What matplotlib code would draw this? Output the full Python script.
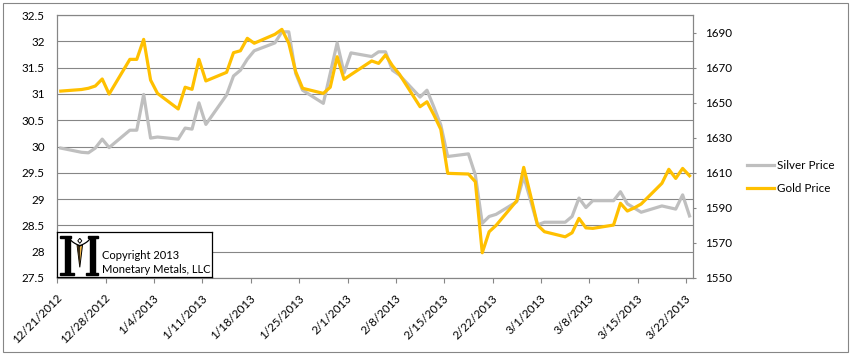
import matplotlib
matplotlib.use("Agg")
import matplotlib.pyplot as plt
from matplotlib.transforms import ScaledTranslation
from matplotlib.patches import Rectangle, Polygon
from matplotlib.ticker import MultipleLocator, FuncFormatter
import numpy as np
import pandas as pd

plt.rcParams['font.family'] = ['Lato', 'DejaVu Sans']

# ---------------- DATA ----------------
dates = ["2012-12-21", "2012-12-24", "2012-12-25", "2012-12-26", "2012-12-27", "2012-12-28",
         "2012-12-31", "2013-01-01", "2013-01-02", "2013-01-03", "2013-01-04",
         "2013-01-07", "2013-01-08", "2013-01-09", "2013-01-10", "2013-01-11",
         "2013-01-14", "2013-01-15", "2013-01-16", "2013-01-17", "2013-01-18",
         "2013-01-21", "2013-01-22", "2013-01-23", "2013-01-24", "2013-01-25",
         "2013-01-28", "2013-01-29", "2013-01-30", "2013-01-31", "2013-02-01",
         "2013-02-04", "2013-02-05", "2013-02-06", "2013-02-07", "2013-02-08",
         "2013-02-11", "2013-02-12", "2013-02-13", "2013-02-14", "2013-02-15",
         "2013-02-18", "2013-02-19", "2013-02-20", "2013-02-21", "2013-02-22",
         "2013-02-25", "2013-02-26", "2013-02-27", "2013-02-28", "2013-03-01",
         "2013-03-04", "2013-03-05", "2013-03-06", "2013-03-07", "2013-03-08",
         "2013-03-11", "2013-03-12", "2013-03-13", "2013-03-14", "2013-03-15",
         "2013-03-18", "2013-03-19", "2013-03-20", "2013-03-21", "2013-03-22"]

silver = [29.97, 29.89, 29.88, 29.97, 30.14, 29.98,
          30.31, 30.31, 30.99, 30.16, 30.18,
          30.14, 30.35, 30.33, 30.83, 30.42,
          30.98, 31.34, 31.45, 31.66, 31.82,
          31.97, 32.18, 32.18, 31.39, 31.07,
          30.82, 31.39, 31.97, 31.40, 31.78,
          31.71, 31.80, 31.80, 31.45, 31.36,
          30.94, 31.07, 30.75, 30.41, 29.81,
          29.86, 29.46, 28.54, 28.67, 28.71,
          28.95, 29.43, 28.97, 28.51, 28.56,
          28.56, 28.67, 29.02, 28.84, 28.97,
          28.97, 29.14, 28.91, 28.83, 28.75,
          28.87, 28.84, 28.81, 29.08, 28.68]

gold = [1656.6, 1657.5, 1658.2, 1659.5, 1663.5, 1654.9,
        1674.7, 1674.7, 1686.1, 1662.9, 1655.3,
        1646.4, 1658.8, 1657.6, 1674.7, 1662.4,
        1667.3, 1678.5, 1679.6, 1686.7, 1683.9,
        1689.0, 1691.8, 1683.9, 1667.7, 1658.2,
        1655.3, 1658.8, 1676.2, 1663.3, 1666.0,
        1673.8, 1672.4, 1677.2, 1671.1, 1666.3,
        1647.7, 1650.5, 1643.0, 1634.8, 1609.7,
        1609.3, 1604.9, 1564.4, 1576.4, 1580.0,
        1594.1, 1613.1, 1597.0, 1580.2, 1576.4,
        1573.5, 1575.8, 1584.0, 1578.6, 1578.3,
        1580.2, 1592.6, 1588.2, 1590.0, 1592.2,
        1604.0, 1612.0, 1606.8, 1612.5, 1608.3]

tick_dates = pd.date_range("2012-12-21", "2013-03-22", freq="7D")
tick_labels = [f"{d.month}/{d.day}/{d.year}" for d in tick_dates]

# ---------------- FIGURE ----------------
W, H = 851, 354
fig = plt.figure(figsize=(W / 100, H / 100), dpi=100)
fig.patches.append(Rectangle((2.5 / W, 2.5 / H), 845.5 / W, 348.5 / H,
                             transform=fig.transFigure, fill=False,
                             edgecolor="#868686", linewidth=0.8))

grid_c = "#868686"
fs = 8.4
ax = fig.add_axes([57.3 / W, 1 - 278 / H, (693 - 57.3) / W, (278 - 15) / H])
ax2 = ax.twinx()

x = pd.to_datetime(dates) + pd.Timedelta(hours=12)
ax.plot(x, silver, color="#BFBFBF", lw=2.3, solid_joinstyle="round", label="Silver Price")
ax2.plot(x, gold, color="#FFC000", lw=2.3, solid_joinstyle="round", label="Gold Price")

ax.set_xlim(pd.Timestamp("2012-12-21"), pd.Timestamp("2013-03-23"))
ax.set_ylim(27.5, 32.5)
ax.yaxis.set_major_locator(MultipleLocator(0.5))
ax.yaxis.set_major_formatter(FuncFormatter(lambda v, p: f"{v:g}"))
ax.grid(axis="y", color=grid_c, lw=0.8)
ax.set_axisbelow(True)

ax2.set_ylim(1550, 1700)
ax2.set_yticks(np.arange(1550, 1691, 20))

ax.set_xticks(tick_dates)
ax.set_xticklabels(tick_labels)

for a in (ax, ax2):
    for s in a.spines.values():
        s.set_color(grid_c)
        s.set_linewidth(0.8)

ax.tick_params(axis="y", length=0, pad=9, labelsize=fs, labelcolor="black")
ax2.tick_params(axis="y", length=2.4, width=0.8, color=grid_c, pad=6.5, labelsize=fs,
                labelcolor="black")
ax.tick_params(axis="x", length=3.6, width=0.8, color=grid_c, pad=9.5, labelsize=fs,
               labelcolor="black")
for lab in ax.get_xticklabels():
    lab.set_rotation(45)
    lab.set_ha("right")
    lab.set_va("center")
    lab.set_rotation_mode("anchor")
    lab.set_transform(lab.get_transform() + ScaledTranslation(0.03, 0, fig.dpi_scale_trans))

# legend
h1, l1 = ax.get_legend_handles_labels()
h2, l2 = ax2.get_legend_handles_labels()
fig.legend(h1 + h2, l1 + l2, loc="center left", bbox_to_anchor=(746.7 / W, 1 - 177 / H),
           frameon=False, fontsize=fs, handlelength=2.3, handletextpad=0.3,
           labelspacing=1.05, borderpad=0, borderaxespad=0)

# ---------------- LOGO BOX ----------------
lg = fig.add_axes([57.3 / W, 1 - 277.3 / H, 155 / W, 45 / H], zorder=10)
lg.set_xlim(0, 155)
lg.set_ylim(0, 45)
lg.set_xticks([])
lg.set_yticks([])
for s in lg.spines.values():
    s.set_color("black")
    s.set_linewidth(0.9)

# stylised M
lg.add_patch(Rectangle((7.5, 3), 5, 37, color="black"))
lg.add_patch(Rectangle((33, 3), 5, 37, color="black"))
lg.add_patch(Rectangle((3, 2), 14, 2, color="black"))
lg.add_patch(Rectangle((29, 2), 12, 2, color="black"))
lg.add_patch(Rectangle((3, 39.5), 11, 2, color="black"))
lg.add_patch(Rectangle((31, 39.5), 10, 2, color="black"))
t = np.linspace(0, 1, 30)
lg.plot(12 + 10.5 * t, 40.5 - 9 * np.sqrt(t), color="black", lw=0.9)
lg.plot(33 - 10.5 * t, 40.5 - 9 * np.sqrt(t), color="black", lw=0.9)
lg.add_patch(Polygon([(22.5, 39), (24.5, 36.5), (22.5, 34), (20.5, 36.5)], closed=True,
                     fill=False, edgecolor="black", lw=0.7))
lg.add_patch(Polygon([(19.8, 32), (25.2, 32), (22.5, 10)], closed=True,
                     facecolor="#F2B84B", edgecolor="black", lw=0.7))
lg.add_patch(Polygon([(19.8, 32), (22.5, 32), (22.5, 10)], closed=True,
                     facecolor="#3a2a10", edgecolor="none"))

lg.text(44.4, 18.5, "Copyright 2013", fontsize=8.0, va="baseline", ha="left")
lg.text(44.4, 4.5, "Monetary Metals, LLC", fontsize=8.0, va="baseline", ha="left")

fig.savefig("out.png", dpi=100)
